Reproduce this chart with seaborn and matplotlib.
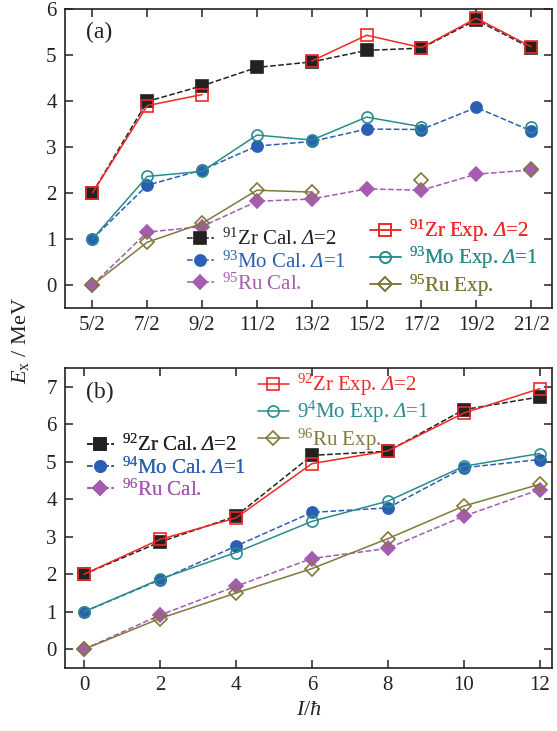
import numpy as np
import pandas as pd
import seaborn as sns
import matplotlib.pyplot as plt
from matplotlib.lines import Line2D

sns.set_style("ticks")
plt.rcParams['font.family'] = ['Liberation Serif', 'DejaVu Serif']
plt.rcParams['mathtext.fontset'] = 'custom'
plt.rcParams['mathtext.rm'] = 'Liberation Serif'
plt.rcParams['mathtext.it'] = 'Liberation Serif:italic'
plt.rcParams['mathtext.sf'] = 'Liberation Serif:italic'  # used for the italic Delta
plt.rcParams['mathtext.bf'] = 'Liberation Serif:bold'

# panel (a): odd nuclei, I = 5/2 ... 21/2
spin_a = [2.5, 3.5, 4.5, 5.5, 6.5, 7.5, 8.5, 9.5, 10.5]
spin_a_labels = ["5/2", "7/2", "9/2", "11/2", "13/2", "15/2", "17/2", "19/2", "21/2"]
zr91_cal = [2.0, 3.99, 4.33, 4.73, 4.85, 5.10, 5.15, 5.76, 5.15]
zr91_exp = [2.0, 3.90, 4.14, np.nan, 4.87, 5.43, 5.16, 5.80, 5.18]
mo93_cal = [1.0, 2.17, 2.50, 3.02, 3.12, 3.39, 3.38, 3.86, 3.35]
mo93_exp = [1.0, 2.36, 2.47, 3.26, 3.15, 3.65, 3.44, np.nan, 3.43]
ru95_cal = [0.0, 1.15, 1.27, 1.82, 1.87, 2.09, 2.06, 2.41, 2.50]
ru95_exp = [0.0, 0.93, 1.34, 2.06, 2.02, np.nan, 2.29, np.nan, 2.52]

# panel (b): even nuclei, I = 0 ... 12
spin_b = [0, 2, 4, 6, 8, 10, 12]
zr92_cal = [2.0, 2.86, 3.55, 5.17, 5.28, 6.39, 6.73]
zr92_exp = [2.0, 2.93, 3.50, 4.95, 5.29, 6.30, 6.95]
mo94_cal = [1.0, 1.85, 2.75, 3.65, 3.77, 4.84, 5.06]
mo94_exp = [1.0, 1.87, 2.58, 3.41, 3.95, 4.88, 5.22]
ru96_cal = [0.0, 0.91, 1.68, 2.42, 2.69, 3.55, 4.26]
ru96_exp = [0.0, 0.82, 1.50, 2.15, 2.95, 3.82, 4.40]

black = '#222222'
blue = '#2b5fb4'
purple = '#a55bb0'
red = '#f02828'
teal = '#2a8c8c'
olive = '#7f7a3c'

D = r'$\mathsf{\Delta}$'


def draw(ax, x, y, color, marker, ls, filled):
    # split on missing points so the line breaks there
    df = pd.DataFrame({'x': x, 'y': y})
    df['seg'] = df['y'].isna().cumsum()
    df = df.dropna()
    fc = color if filled else 'none'
    sns.lineplot(data=df, x='x', y='y', units='seg', estimator=None, ax=ax,
                 color=color, linestyle=ls, linewidth=1.1, marker=marker,
                 markersize=8 if marker != 'D' else 7.5, markerfacecolor=fc,
                 markeredgecolor=color, markeredgewidth=1.2, sort=False)


def handle(color, marker, ls, filled):
    return Line2D([], [], color=color, linestyle=ls, linewidth=1.1, marker=marker,
                  markersize=8 if marker != 'D' else 7.5,
                  markerfacecolor=color if filled else 'none',
                  markeredgecolor=color, markeredgewidth=1.2)


def add_legend(ax, entries, anchor, hl):
    hs = [handle(c, m, ls, f) for (lab, c, m, ls, f) in entries]
    labs = [e[0] for e in entries]
    leg = ax.legend(hs, labs, loc='upper left', bbox_to_anchor=anchor, frameon=False,
                    fontsize=15, borderpad=0, borderaxespad=0, handlelength=hl,
                    handletextpad=0.4, labelspacing=0.05)
    for t, e in zip(leg.get_texts(), entries):
        t.set_color(e[1])
    ax.add_artist(leg)


fig = plt.figure(figsize=(5.57, 7.31), dpi=100)
ax1 = fig.add_axes([65 / 557, 1 - 308 / 731, 487 / 557, 299 / 731])
ax2 = fig.add_axes([65 / 557, 1 - 668 / 731, 487 / 557, 300 / 731])

draw(ax1, spin_a, zr91_cal, black, 's', '--', True)
draw(ax1, spin_a, mo93_cal, blue, 'o', '--', True)
draw(ax1, spin_a, ru95_cal, purple, 'D', '--', True)
draw(ax1, spin_a, zr91_exp, red, 's', '-', False)
draw(ax1, spin_a, mo93_exp, teal, 'o', '-', False)
draw(ax1, spin_a, ru95_exp, olive, 'D', '-', False)

draw(ax2, spin_b, zr92_cal, black, 's', '--', True)
draw(ax2, spin_b, mo94_cal, blue, 'o', '--', True)
draw(ax2, spin_b, ru96_cal, purple, 'D', '--', True)
draw(ax2, spin_b, zr92_exp, red, 's', '-', False)
draw(ax2, spin_b, mo94_exp, teal, 'o', '-', False)
draw(ax2, spin_b, ru96_exp, olive, 'D', '-', False)

add_legend(ax1, [(r'$^{91}$Zr Cal. ' + D + '=2', black, 's', '--', True),
                 (r'$^{93}$Mo Cal. ' + D + '=1', blue, 'o', '--', True),
                 (r'$^{95}$Ru Cal.', purple, 'D', '--', True)], (0.25, 0.264), 1.3)
add_legend(ax1, [(r'$^{91}$Zr Exp. ' + D + '=2', red, 's', '-', False),
                 (r'$^{93}$Mo Exp. ' + D + '=1', teal, 'o', '-', False),
                 (r'$^{95}$Ru Exp.', olive, 'D', '-', False)], (0.626, 0.301), 1.5)
add_legend(ax2, [(r'$^{92}$Zr Exp. ' + D + '=2', red, 's', '-', False),
                 (r'9$^{4}$Mo Exp. ' + D + '=1', teal, 'o', '-', False),
                 (r'$^{96}$Ru Exp.', olive, 'D', '-', False)], (0.396, 0.987), 1.5)
add_legend(ax2, [(r'$^{92}$Zr Cal. ' + D + '=2', black, 's', '--', True),
                 (r'$^{94}$Mo Cal. ' + D + '=1', blue, 'o', '--', True),
                 (r'$^{96}$Ru Cal.', purple, 'D', '--', True)], (0.045, 0.777), 1.3)

ax1.set_xlim(2.0, 10.88)
ax1.set_ylim(-0.5, 6)
ax1.set_xticks(spin_a)
ax1.set_xticklabels(spin_a_labels)
ax1.set_yticks(range(0, 7))
ax2.set_xlim(-0.5, 12.32)
ax2.set_ylim(-0.5, 7.5)
ax2.set_xticks(spin_b)
ax2.set_yticks(range(0, 8))

for ax in (ax1, ax2):
    ax.set_xlabel('')
    ax.set_ylabel('')
    ax.tick_params(direction='in', top=True, right=True, length=6, width=1.1,
                   labelsize=15, colors='#222222', pad=6)
    for s in ax.spines.values():
        s.set_linewidth(1.2)
        s.set_color('#222222')

ax1.text(0.043, 0.92, '(a)', transform=ax1.transAxes, fontsize=17, va='center', color='#222222')
ax2.text(0.043, 0.917, '(b)', transform=ax2.transAxes, fontsize=17, va='center', color='#222222')
ax2.set_xlabel(r'$I/\hbar$', fontsize=16, color='#222222', labelpad=4)
fig.text(0.036, 1 - 341 / 731, r'$E_\mathrm{x}$ / MeV', rotation=90, fontsize=16,
         va='center', ha='center', color='#222222')

fig.savefig('out.png', dpi=100)
